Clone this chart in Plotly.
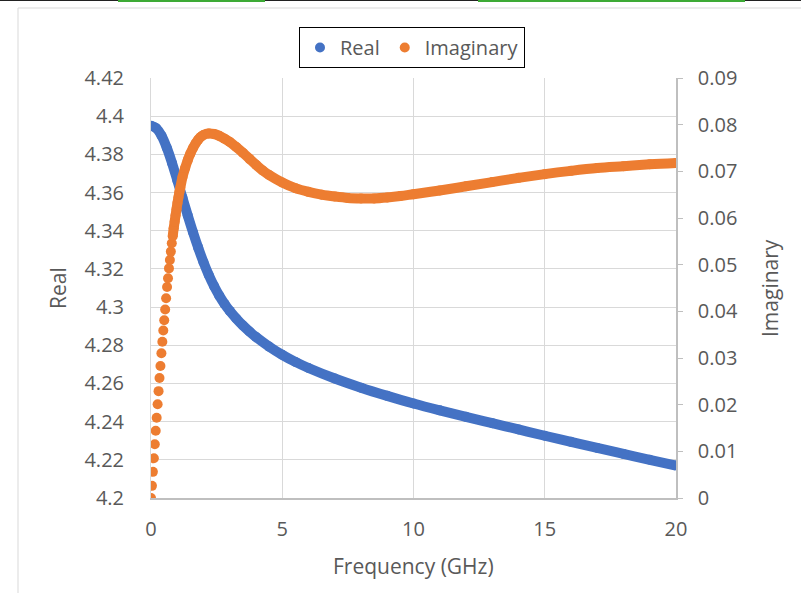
import plotly.graph_objects as go

# ---- data -------------------------------------------------------------
real_freq = [0.0, 0.2, 0.4, 0.6, 0.8, 1.0, 1.2, 1.4, 1.6, 1.8, 2.0, 2.2, 2.4,
             2.6, 2.8, 3.0, 3.25, 3.5, 3.75, 4.0, 4.5, 5.0, 5.5, 6.0, 7.0,
             8.0, 9.0, 10.0, 11.0, 12.0, 13.0, 14.0, 15.0, 16.0, 17.0, 18.0,
             19.0, 20.0]
real_vals = [4.395, 4.3937, 4.3898, 4.3835, 4.3755, 4.3665, 4.3572, 4.3480,
             4.3392, 4.3310, 4.3235, 4.3168, 4.3110, 4.3060, 4.3017, 4.2980,
             4.2940, 4.2904, 4.2872, 4.2843, 4.2793, 4.2750, 4.2713, 4.2681,
             4.2626, 4.2578, 4.2535, 4.2495, 4.2459, 4.2425, 4.2392, 4.2359,
             4.2326, 4.2294, 4.2262, 4.2231, 4.2200, 4.2170]

imag_freq = [0.000, 0.036, 0.072, 0.108, 0.144, 0.180, 0.216, 0.252, 0.288,
             0.324, 0.360, 0.396, 0.432, 0.468, 0.504, 0.540, 0.576, 0.612,
             0.648, 0.684, 0.720, 0.756, 0.792, 0.828, 0.864, 0.900, 0.936,
             0.972, 1.008, 1.044, 1.080, 1.116,
             1.2, 1.3, 1.4, 1.5, 1.6, 1.7, 1.8, 1.9, 2.0, 2.2, 2.4, 2.6, 2.8,
             3.0, 3.25, 3.5, 3.75, 4.0, 4.25, 4.5, 5.0, 5.5, 6.0, 6.5, 7.0,
             7.5, 8.0, 8.5, 9.0, 9.5, 10.0, 11.0, 12.0, 13.0, 14.0, 15.0,
             16.0, 17.0, 18.0, 19.0, 20.0]
imag_vals = [0.0, 0.0026, 0.0056, 0.0085, 0.0115, 0.0144, 0.0172, 0.0201,
             0.0229, 0.0257, 0.0283, 0.0310, 0.0335, 0.0359, 0.0381, 0.0404,
             0.0428, 0.0452, 0.0471, 0.0492, 0.0510, 0.0528, 0.0546, 0.0561,
             0.0578, 0.0592, 0.0606, 0.0619, 0.0632, 0.0644, 0.0655, 0.0665,
             0.0688, 0.0707, 0.0724, 0.0738, 0.0750, 0.0760, 0.0768, 0.0774,
             0.0778, 0.0781, 0.0780, 0.0776, 0.0770, 0.0763, 0.0752, 0.0740,
             0.0727, 0.0714, 0.0702, 0.0692, 0.0676, 0.0664, 0.0656, 0.0650,
             0.0646, 0.0643, 0.0642, 0.0642, 0.0644, 0.0647, 0.0651, 0.0659,
             0.0668, 0.0677, 0.0686, 0.0694, 0.0701, 0.0707, 0.0711, 0.0715,
             0.0718]

x_ticks = [0, 5, 10, 15, 20]
real_ticks = [4.2, 4.22, 4.24, 4.26, 4.28, 4.3, 4.32, 4.34, 4.36, 4.38, 4.4, 4.42]
real_tick_text = ["4.2", "4.22", "4.24", "4.26", "4.28", "4.3", "4.32", "4.34",
                  "4.36", "4.38", "4.4", "4.42"]
imag_ticks = [0, 0.01, 0.02, 0.03, 0.04, 0.05, 0.06, 0.07, 0.08, 0.09]
imag_tick_text = ["0", "0.01", "0.02", "0.03", "0.04", "0.05", "0.06", "0.07",
                  "0.08", "0.09"]

BLUE = "#4472C4"
ORANGE = "#ED7D31"
TXT = "#595959"
FONT = "Open Sans"
MS = 10    # marker diameter
LW = 10    # band width where markers merge

# where the orange dots start to overlap into a continuous band
band_start = 23

fig = go.Figure()

fig.add_trace(go.Scatter(
    x=real_freq, y=real_vals, mode="lines", showlegend=False,
    line=dict(color=BLUE, width=LW, shape="spline", smoothing=1.0),
    hoverinfo="skip"))
fig.add_trace(go.Scatter(
    x=real_freq, y=real_vals, mode="markers", name="Real",
    marker=dict(color=BLUE, size=MS)))

fig.add_trace(go.Scatter(
    x=imag_freq[band_start:], y=imag_vals[band_start:], mode="lines",
    showlegend=False, yaxis="y2",
    line=dict(color=ORANGE, width=LW, shape="spline", smoothing=1.0),
    hoverinfo="skip"))
fig.add_trace(go.Scatter(
    x=imag_freq, y=imag_vals, mode="markers", name="Imaginary", yaxis="y2",
    marker=dict(color=ORANGE, size=MS)))

W, H = 801, 593
l, r, t, b = 151, 125, 78, 95
pw, ph = W - l - r, H - t - b


def px_to_paper(px, py):
    return (px - l) / pw, (H - b - py) / ph


fig.update_layout(
    width=W, height=H,
    margin=dict(l=l, r=r, t=t, b=b, autoexpand=False),
    paper_bgcolor="white", plot_bgcolor="white",
    font=dict(family=FONT, size=20, color=TXT),
    showlegend=True,
    legend=dict(
        orientation="h", x=px_to_paper(412, 0)[0], xref="paper",
        xanchor="center",
        y=1 - 27 / H, yref="container", yanchor="top",
        bordercolor="black", borderwidth=1, bgcolor="white",
        font=dict(family=FONT, size=20, color=TXT),
        itemwidth=30, tracegroupgap=0, traceorder="normal",
    ),
    xaxis=dict(
        range=[0, 20], tickvals=x_ticks, showgrid=True, gridcolor="#d9d9d9",
        gridwidth=1, zeroline=False, showline=True, linecolor="#bfbfbf",
        linewidth=1.5, ticks="", ticklabelstandoff=12,
    ),
    yaxis=dict(
        range=[4.2, 4.42], tickvals=real_ticks, ticktext=real_tick_text,
        showgrid=True, gridcolor="#d9d9d9", gridwidth=1, zeroline=False,
        showline=True, linecolor="#d9d9d9", ticks="", ticklabelstandoff=22,
    ),
    yaxis2=dict(
        range=[0, 0.09], tickvals=imag_ticks, ticktext=imag_tick_text,
        overlaying="y", side="right", showgrid=False, zeroline=False,
        showline=True, linecolor="#bfbfbf", linewidth=1.5,
        ticks="outside", ticklen=5, tickcolor="#bfbfbf", tickwidth=1,
        ticklabelstandoff=11,
    ),
)

# axis titles
titles = [("Frequency (GHz)", 413, 566, 0), ("Real", 58, 288, -90),
          ("Imaginary", 770, 288, -90)]
anns = []
for text, px, py, ang in titles:
    xp, yp = px_to_paper(px, py)
    anns.append(dict(text=text, textangle=ang, x=xp, y=yp, xref="paper",
                     yref="paper", xanchor="center", yanchor="middle",
                     showarrow=False, font=dict(size=21, color=TXT)))
fig.update_layout(annotations=anns)

# chart frame and the strip across the top edge
frame_x0, frame_y0 = px_to_paper(18, 8)
shapes = [
    dict(type="line", xref="paper", yref="paper", x0=frame_x0, x1=2,
         y0=frame_y0, y1=frame_y0, line=dict(color="#d9d9d9", width=1)),
    dict(type="line", xref="paper", yref="paper", x0=frame_x0, x1=frame_x0,
         y0=frame_y0, y1=-1, line=dict(color="#d9d9d9", width=1)),
]
top_y = px_to_paper(0, 0.5)[1]
shapes.append(dict(type="line", xref="paper", yref="paper",
                   x0=px_to_paper(0, 0)[0], x1=px_to_paper(W, 0)[0],
                   y0=top_y, y1=top_y, line=dict(color="#222222", width=1)))
for gx0, gx1 in [(118, 265), (478, 745)]:
    shapes.append(dict(type="line", xref="paper", yref="paper",
                       x0=px_to_paper(gx0, 0)[0], x1=px_to_paper(gx1, 0)[0],
                       y0=px_to_paper(0, 1)[1], y1=px_to_paper(0, 1)[1],
                       line=dict(color="#3DAA35", width=2)))
fig.update_layout(shapes=shapes)

fig.write_html("out.html")
